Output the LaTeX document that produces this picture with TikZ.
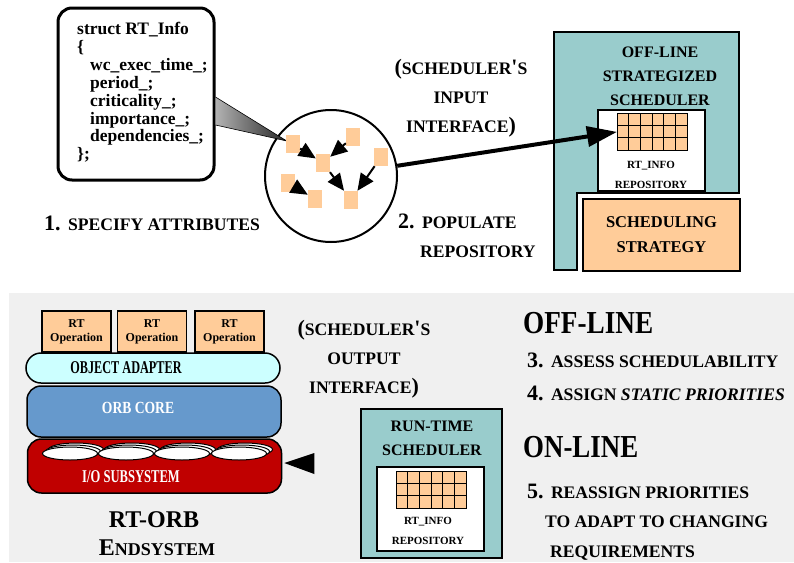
\documentclass[tikz,border=0pt]{standalone}
\usepackage{fontspec}
\setmainfont{Liberation Serif}
\usepackage{graphicx}
\usetikzlibrary{arrows.meta,positioning,calc}

\definecolor{tealbg}{HTML}{99CCCC}
\definecolor{peach}{HTML}{FFCC99}
\definecolor{panelgray}{HTML}{F0F0F0}
\definecolor{adaptercyan}{HTML}{CCFFFF}
\definecolor{coreblue}{HTML}{6699CC}
\definecolor{iored}{HTML}{C00000}

% small capitals faked with a smaller size
\newcommand{\smc}[1]{{\fontsize{17.6}{29}\selectfont #1}}
\newcommand{\squeeze}[2]{\scalebox{#1}[1]{#2}}

% 6x3 repository table, top left corner at #1
\newcommand{\repogrid}[2]{%
  \node[draw, thick, fill=peach, minimum width=70pt, minimum height=37pt,
    inner sep=0pt, anchor=north west] (#2) at #1 {};
  \foreach \c in {1,...,5}
    \draw[thick] ($(#2.north west)+({\c*70/6},0)$) -- ++(0,37);
  \foreach \r in {1,2}
    \draw[thick] ($(#2.north west)+(0,{\r*37/3})$) -- ++(70,0);
}

\begin{document}
\begin{tikzpicture}[x=1pt, y=-1pt,
    attr/.style={fill=peach, minimum width=14pt, minimum height=18pt, inner sep=0pt},
    dep/.style={line width=2pt, -{Triangle[length=17pt,width=15pt]}},
    steptext/.style={font=\fontsize{22}{29}\selectfont\bfseries, align=left, inner sep=0pt},
    boxtext/.style={font=\fontsize{16}{24}\selectfont\bfseries, align=center, inner sep=0pt},
    tinytext/.style={font=\fontsize{11}{19.5}\selectfont\bfseries, align=center, inner sep=0pt},
    opbox/.style={draw, line width=1.5pt, fill=peach, minimum width=69pt, minimum height=41pt,
      inner sep=0pt, align=center, font=\fontsize{12}{14}\selectfont\bfseries},
    layer/.style={draw, line width=1.5pt, minimum width=254pt, rounded corners=14pt, inner sep=0pt},
    layertext/.style={font=\fontsize{18}{18}\selectfont\bfseries, inner sep=0pt},
    bigtext/.style={font=\fontsize{32}{32}\selectfont\bfseries, inner sep=0pt, anchor=base west}]
  \useasboundingbox (0,0) rectangle (794,562);

  % Attribute specification
  \node[draw, line width=3pt, rounded corners=14pt, minimum width=156pt,
    minimum height=172pt] (info) at (136,94) {};
  \node[anchor=north west, align=left, inner sep=0pt,
    font=\fontsize{17.5}{17.9}\selectfont\bfseries] (infotext) at (77,22)
    {struct RT\_Info\\ \{\\ \hspace*{13pt}wc\_exec\_time\_;\\ \hspace*{13pt}period\_;\\
     \hspace*{13pt}criticality\_;\\ \hspace*{13pt}importance\_;\\
     \hspace*{13pt}dependencies\_;\\ \};};

  % Pool of RT_Info entries
  \node[circle, draw, line width=2pt, minimum size=132pt, inner sep=0pt] (pool) at (331,176) {};
  \node[attr] (aA) at (293,144) {};
  \shade[left color=gray!60, right color=black!85]
    ($(info.east)+(0,3)$) -- ($(aA.west)+(1,-3)$) -- ($(info.east)+(0,31)$) -- cycle;
  \draw[line width=0.6pt] ($(info.east)+(0,3)$) -- ($(aA.west)+(1,-3)$) -- ($(info.east)+(0,31)$);
  \node[attr] (aA) at (293,144) {};
  \node[attr] (aB) at (353,137) {};
  \node[attr] (aC) at (323,163) {};
  \node[attr] (aD) at (381,157) {};
  \node[attr] (aE) at (288,183) {};
  \node[attr] (aF) at (315,199) {};
  \node[attr] (aG) at (351,200) {};
  \draw[dep] (aA) -- (aC);
  \draw[dep] (aB) -- (aC);
  \draw[dep] (aC) -- (aG);
  \draw[dep] (aD) -- (aG);
  \draw[dep] (aE) -- (aF);

  \node[steptext, anchor=base west] (step1) at (44,230) {1. \smc{SPECIFY ATTRIBUTES}};
  \node[steptext, anchor=base west] (step2) at (398,257)
    {2. \smc{POPULATE}\\ \hspace*{22pt}\smc{REPOSITORY}};
  \node[steptext, align=center, anchor=base] (inputif) at (461,132)
    {(\smc{SCHEDULER}\textquotesingle\smc{S}\\ \smc{INPUT}\\ \smc{INTERFACE})};

  % Off-line strategized scheduler
  \draw[line width=2pt, fill=tealbg] (554,32) -- (739,32) -- (739,193) -- (577,193)
    -- (577,270) -- (554,270) -- cycle;
  \node[boxtext, anchor=base] (offsched) at (660,105) {OFF-LINE\\STRATEGIZED\\SCHEDULER};
  \node[draw, line width=2pt, fill=white, minimum width=107pt, minimum height=81pt,
    anchor=north west] (repobox) at (597,109) {};
  \repogrid{(617,113)}{repo}
  \node[tinytext, anchor=base] (repolabel) at (651,188) {RT\_INFO\\REPOSITORY};
  \node[draw, line width=2pt, fill=peach, minimum width=157pt, minimum height=72pt,
    anchor=north west, boxtext, font=\fontsize{16.5}{25}\selectfont\bfseries] (strategy)
    at (582,198) {SCHEDULING\\STRATEGY};
  \draw[line width=4pt, -{Triangle[length=30pt,width=20pt]}] (pool) -- (repo.west);

  % Run-time half
  \fill[panelgray] (9,293) rectangle (794,562);

  % RT-ORB endsystem
  \node[opbox] (op1) at (76.5,331.5) {RT\\Operation};
  \node[opbox] (op2) at (152,331.5) {RT\\Operation};
  \node[opbox] (op3) at (229.5,331.5) {RT\\Operation};
  \node[layer, fill=adaptercyan, minimum height=30pt, rounded corners=15pt] (adapter)
    at (153,368) {};
  \node[layertext] (adaptertext) at (126,368) {\squeeze{0.68}{OBJECT ADAPTER}};
  \node[layer, fill=coreblue, minimum height=51pt] (core) at (154,411.5) {};
  \node[layertext, font=\fontsize{17}{17}\selectfont\bfseries, text=white] (coretext)
    at (138,408) {\squeeze{0.8}{ORB CORE}};
  \node[layer, fill=iored, minimum height=54pt] (io) at (154.5,466) {};
  \foreach \cx in {70,126,182,239}
    \foreach \k in {2,1,0}
      \draw[fill=white, line width=1pt] (\cx+\k*3, 453.5-\k*2) ellipse (27.5 and 6.5);
  \node[layertext, text=white] (iotext) at (131,477) {\squeeze{0.7}{I/O SUBSYSTEM}};
  \fill ($(io.east)+(2,-3)$) -- ($(io.east)+(32,-13)$) -- ($(io.east)+(32,8)$) -- cycle;
  \node[font=\fontsize{24}{28}\selectfont\bfseries, inner sep=0pt, anchor=base] (orbname)
    at (154,527) {RT-ORB};
  \node[font=\fontsize{24}{28}\selectfont\bfseries, inner sep=0pt, anchor=base] (endsys)
    at (157,555) {E{\fontsize{18}{20}\selectfont NDSYSTEM}};

  % Run-time scheduler
  \node[steptext, align=center, anchor=base] (outputif) at (364,393)
    {(\smc{SCHEDULER}\textquotesingle\smc{S}\\ \smc{OUTPUT}\\ \smc{INTERFACE})};
  \node[draw, line width=2pt, fill=tealbg, minimum width=141pt, minimum height=149pt,
    anchor=north west] (rtsched) at (360,408) {};
  \node[boxtext, anchor=base] (rtlabel) at (432,455) {RUN-TIME\\SCHEDULER};
  \node[draw, line width=2pt, fill=white, minimum width=107pt, minimum height=84pt,
    anchor=north west] (rtrepobox) at (376,466) {};
  \repogrid{(396,471)}{rtrepo}
  \node[tinytext, anchor=base] (rtrepolabel) at (428,544) {RT\_INFO\\REPOSITORY};

  % Off-line and on-line steps
  \node[bigtext] (offline) at (523,333) {\squeeze{0.85}{OFF-LINE}};
  \node[steptext, anchor=base west] (step3) at (527,367) {3. \smc{ASSESS SCHEDULABILITY}};
  \node[steptext, anchor=base west] (step4) at (527,400)
    {4. \smc{ASSIGN \textit{STATIC PRIORITIES}}};
  \node[bigtext] (online) at (523,457) {\squeeze{0.84}{ON-LINE}};
  \node[steptext, anchor=base west, font=\fontsize{22}{29.5}\selectfont\bfseries] (step5)
    at (527,557)
    {5. \smc{REASSIGN PRIORITIES}\\ \hspace*{18pt}\smc{TO ADAPT TO CHANGING}\\
     \hspace*{23pt}\smc{REQUIREMENTS}};
\end{tikzpicture}
\end{document}
